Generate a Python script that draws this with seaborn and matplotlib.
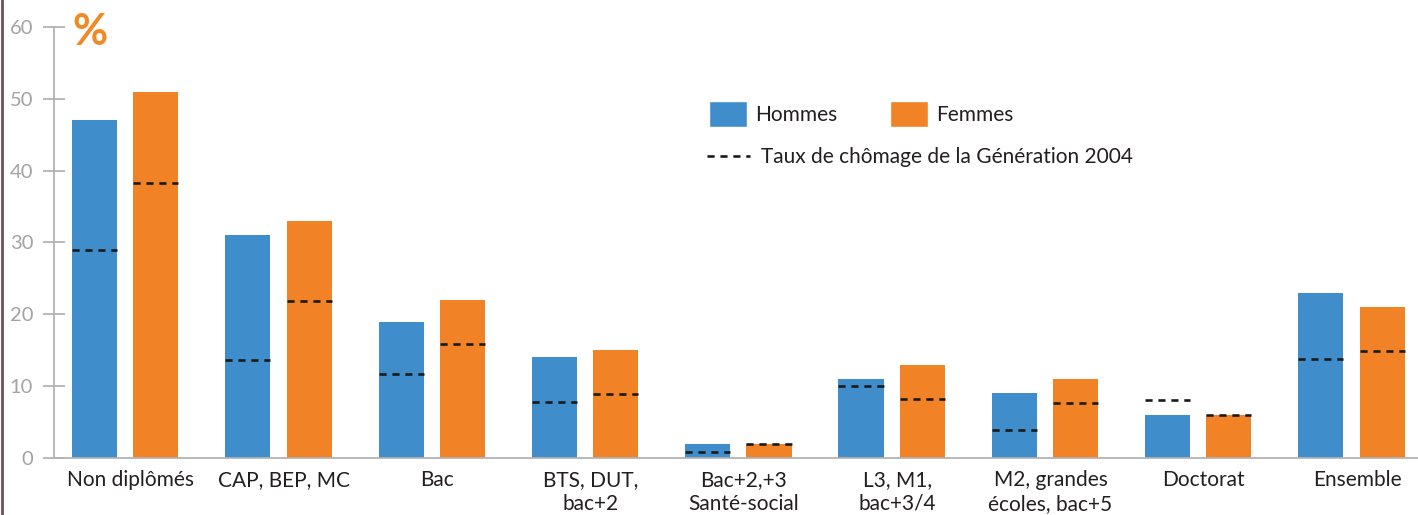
import matplotlib
matplotlib.use("Agg")
import matplotlib.pyplot as plt
import seaborn as sns
import pandas as pd
import numpy as np
from matplotlib.patches import Patch
from matplotlib.lines import Line2D

# ---- data ----
categories = ["Non diplômés", "CAP, BEP, MC", "Bac", "BTS, DUT,\nbac+2",
              "Bac+2,+3\nSanté-social", "L3, M1,\nbac+3/4",
              "M2, grandes\nécoles, bac+5", "Doctorat", "Ensemble"]
hommes = [47, 31, 19, 14, 2, 11, 9, 6, 23]
femmes = [51, 33, 22, 15, 2, 13, 11, 6, 21]
hommes_2004 = [29, 13.7, 11.7, 7.8, 0.8, 10, 3.9, 8.1, 13.8]
femmes_2004 = [38.3, 21.8, 15.9, 8.9, 2, 8.2, 7.7, 6, 14.9]
series = ["Hommes", "Femmes"]
yticks = [0, 10, 20, 30, 40, 50, 60]
legend_line_label = "Taux de chômage de la Génération 2004"

BLUE = "#3f8dcb"
ORANGE = "#f28226"
GREY = "#b3b3b3"
TXT = "#231f20"

sns.set_style("white")
plt.rcParams["font.family"] = ["Lato", "DejaVu Sans"]

df = pd.DataFrame({
    "cat": categories * 2,
    "val": hommes + femmes,
    "sexe": [series[0]] * len(categories) + [series[1]] * len(categories),
})

W, H = 1418, 515
fig = plt.figure(figsize=(W / 100, H / 100), dpi=100)
ax = fig.add_axes([54 / W, 1 - 458 / H, (W - 54) / W, (458 - 27) / H])

sns.barplot(data=df, x="cat", y="val", hue="sexe", order=categories,
            hue_order=series, palette=[BLUE, ORANGE], width=0.8, gap=0.265,
            dodge=True, legend=False, saturation=1, linewidth=0, ax=ax)

# dashed reference lines (Generation 2004)
dash = (0, (2.7, 2.2))
for cont, vals in zip(ax.containers, [hommes_2004, femmes_2004]):
    for patch, v in zip(cont.patches, vals):
        x0 = patch.get_x()
        ax.hlines(v, x0, x0 + patch.get_width(), colors="#1a1a1a",
                  linewidth=1.9, linestyles=[dash], zorder=5)

n = len(categories)
shift = 0.036
ax.set_xlim(-0.5 + shift, -0.5 + shift + (W - 54) / 153.3)
ax.set_ylim(0, 60)

ax.set_xticks(np.arange(n) + shift)
ax.set_xticklabels(categories, fontsize=15, color=TXT, linespacing=1.2)
ax.set_xticks(np.arange(1, n) - 0.5 + shift, minor=True)
ax.tick_params(axis="x", which="major", length=0, pad=9)
ax.tick_params(axis="x", which="minor", direction="inout", length=13,
               width=1.3, color=GREY)

ax.set_yticks(yticks)
ax.set_yticklabels([str(t) for t in yticks], fontsize=14.5, color="#a3a3a3")
ax.tick_params(axis="y", direction="inout", length=16, width=1.3,
               color=GREY, pad=7, left=True)
ax.set_xlabel("")
ax.set_ylabel("")

for s in ["top", "right"]:
    ax.spines[s].set_visible(False)
for s in ["left", "bottom"]:
    ax.spines[s].set_color(GREY)
    ax.spines[s].set_linewidth(1.3)

# "%" label
fig.text(72 / W, 1 - 45 / H, "%", fontsize=31, fontweight="bold",
         color="#f08a24", va="baseline", ha="left")

# legends
fs = 15
leg1 = fig.legend(handles=[Patch(facecolor=BLUE), Patch(facecolor=ORANGE)],
                  labels=series, ncol=2, loc="center left",
                  bbox_to_anchor=(709 / W, 1 - 114 / H),
                  bbox_transform=fig.transFigure, frameon=False,
                  fontsize=fs, handlelength=1.83, handleheight=1.5,
                  handletextpad=0.4, columnspacing=2.5, borderpad=0,
                  borderaxespad=0, labelcolor=TXT)
leg2 = fig.legend(handles=[Line2D([], [], color="#1a1a1a", linewidth=1.9,
                                  linestyle=dash)],
                  labels=[legend_line_label], loc="center left",
                  bbox_to_anchor=(707 / W, 1 - 157 / H),
                  bbox_transform=fig.transFigure, frameon=False,
                  fontsize=fs, handlelength=2.05, handletextpad=0.55,
                  borderpad=0, borderaxespad=0, labelcolor=TXT)

# left frame border
fig.add_artist(Line2D([2 / W, 2 / W], [0, 1], transform=fig.transFigure,
                      color="#6b4f5a", linewidth=2))

fig.savefig("out.png", dpi=100)
